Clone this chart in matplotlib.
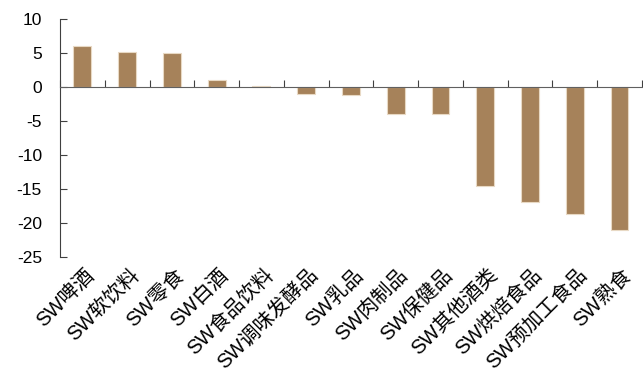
import numpy as np
import matplotlib
matplotlib.use('Agg')
import matplotlib.pyplot as plt

plt.rcParams['font.family'] = ['Liberation Sans', 'Noto Sans CJK SC', 'DejaVu Sans']
plt.rcParams['axes.unicode_minus'] = False

# 申万子行业涨跌幅(%)
categories = ['SW啤酒', 'SW软饮料', 'SW零食', 'SW白酒', 'SW食品饮料', 'SW调味发酵品',
              'SW乳品', 'SW肉制品', 'SW保健品', 'SW其他酒类', 'SW烘焙食品',
              'SW预加工食品', 'SW熟食']
values = [6.1, 5.1, 5.05, 1.0, 0.2, -1.05, -1.15, -3.9, -3.95, -14.5, -16.9, -18.6, -21.1]
yticks = [-25, -20, -15, -10, -5, 0, 5, 10]

fig = plt.figure(figsize=(6.43, 3.83), dpi=100)
ax = fig.add_axes([0.0933, 0.329, 0.905, 0.621])

x = np.arange(len(categories))
ax.bar(x, values, width=0.4, color='#A6825A', edgecolor='#E8D9C4', linewidth=0.8, zorder=2)

ax.set_xlim(-0.5, len(categories) - 0.5)
ax.set_ylim(-25, 10)
ax.set_yticks(yticks)
ax.tick_params(axis='y', direction='in', length=5, pad=13, labelsize=12.5, color='#404040')

# x axis line at zero with ticks between categories
ax.spines['bottom'].set_position(('data', 0))
ax.spines['bottom'].set_color('#606060')
ax.spines['left'].set_color('#404040')
ax.spines['top'].set_visible(False)
ax.spines['right'].set_visible(False)
ax.set_xticks(np.arange(len(categories) + 1) - 0.5)
ax.set_xticklabels([])
ax.tick_params(axis='x', direction='in', length=5, color='#404040')

# category labels under the plot
sec = ax.secondary_xaxis(0.0)
sec.set_xticks(x + 0.05)
sec.set_xticklabels(categories, rotation=45, ha='right', va='top', rotation_mode='anchor', fontsize=14.5)
sec.tick_params(length=0, pad=6)
sec.spines['bottom'].set_visible(False)

fig.savefig('out.png', dpi=100)
